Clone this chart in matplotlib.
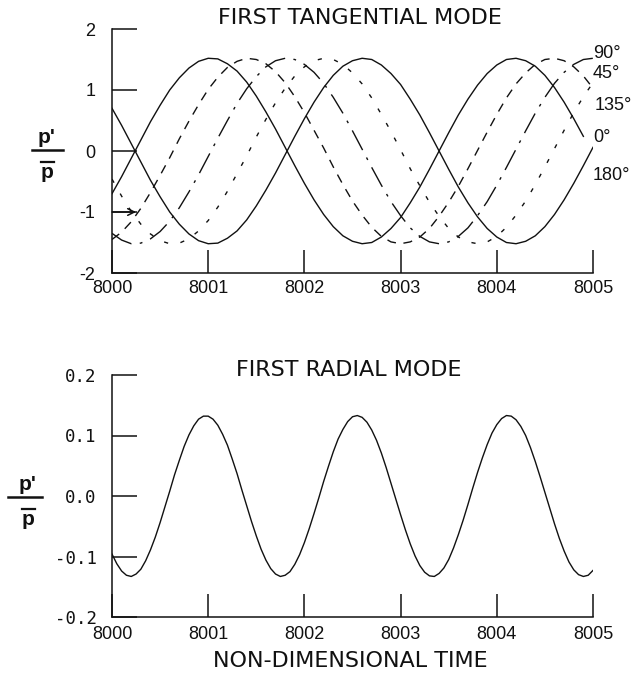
import numpy as np
import matplotlib
matplotlib.use("Agg")
import matplotlib.pyplot as plt
from matplotlib.lines import Line2D

# ---------------- data ----------------
time_tan = np.linspace(8000.0, 8005.0, 51)
time_rad = np.linspace(8000.0, 8005.0, 101)

p_0deg = [-0.70, -0.42, -0.12, 0.18, 0.48, 0.75, 1.00, 1.20, 1.36, 1.47,
          1.52, 1.51, 1.43, 1.31, 1.13, 0.90, 0.64, 0.36, 0.06, -0.24,
          -0.53, -0.80, -1.04, -1.24, -1.39, -1.48, -1.52, -1.50, -1.41, -1.27,
          -1.09, -0.85, -0.59, -0.30, 0.00, 0.30, 0.59, 0.85, 1.08, 1.27,
          1.41, 1.50, 1.52, 1.48, 1.39, 1.24, 1.04, 0.80, 0.53, 0.24]

p_45deg = [-1.45, -1.33, -1.16, -0.94, -0.68, -0.40, -0.11, 0.20, 0.49, 0.76,
           1.01, 1.21, 1.37, 1.47, 1.52, 1.50, 1.43, 1.30, 1.12, 0.89,
           0.63, 0.34, 0.05, -0.26, -0.55, -0.82, -1.05, -1.25, -1.40, -1.49,
           -1.52, -1.49, -1.41, -1.27, -1.07, -0.84, -0.58, -0.29, 0.01, 0.31,
           0.60, 0.87, 1.10, 1.28, 1.42, 1.50, 1.52, 1.48, 1.38, 1.23,
           1.03]

p_90deg = [-1.35, -1.46, -1.52, -1.51, -1.44, -1.32, -1.15, -0.93, -0.67, -0.39,
           -0.09, 0.21, 0.50, 0.78, 1.02, 1.22, 1.38, 1.48, 1.52, 1.50,
           1.42, 1.29, 1.11, 0.88, 0.62, 0.33, 0.03, -0.27, -0.56, -0.83,
           -1.06, -1.26, -1.40, -1.49, -1.52, -1.49, -1.40, -1.26, -1.06, -0.83,
           -0.56, -0.27, 0.03, 0.33, 0.62, 0.88, 1.11, 1.29, 1.42, 1.50,
           1.52]

p_135deg = [-0.46, -0.74, -0.99, -1.20, -1.36, -1.47, -1.52, -1.51, -1.44, -1.31,
            -1.14, -0.92, -0.66, -0.37, -0.08, 0.23, 0.52, 0.79, 1.03, 1.23,
            1.38, 1.48, 1.52, 1.50, 1.42, 1.28, 1.10, 0.87, 0.60, 0.32,
            0.02, -0.29, -0.57, -0.84, -1.07, -1.27, -1.41, -1.49, -1.52, -1.49,
            -1.40, -1.25, -1.05, -0.82, -0.55, -0.26, 0.04, 0.34, 0.63, 0.89,
            1.12]

p_180deg = [0.70, 0.42, 0.12, -0.18, -0.48, -0.75, -1.00, -1.20, -1.36, -1.47,
            -1.52, -1.51, -1.43, -1.31, -1.13, -0.90, -0.64, -0.36, -0.06, 0.24,
            0.53, 0.80, 1.04, 1.24, 1.39, 1.48, 1.52, 1.50, 1.41, 1.27,
            1.09, 0.85, 0.59, 0.30, 0.00, -0.30, -0.59, -0.85, -1.08, -1.27,
            -1.41, -1.50, -1.52, -1.48, -1.39, -1.24, -1.04, -0.80, -0.53, -0.24,
            0.06]

p_radial = [-0.096, -0.112, -0.124, -0.131, -0.133, -0.129, -0.121, -0.107, -0.089, -0.068,
            -0.044, -0.018, 0.008, 0.035, 0.059, 0.082, 0.101, 0.116, 0.127, 0.132,
            0.132, 0.127, 0.117, 0.102, 0.084, 0.061, 0.037, 0.010, -0.016, -0.042,
            -0.066, -0.088, -0.106, -0.120, -0.129, -0.133, -0.131, -0.125, -0.113, -0.097,
            -0.077, -0.054, -0.029, -0.003, 0.024, 0.049, 0.073, 0.094, 0.110, 0.123,
            0.131, 0.133, 0.130, 0.122, 0.109, 0.092, 0.071, 0.047, 0.021, -0.005,
            -0.031, -0.056, -0.079, -0.099, -0.115, -0.126, -0.132, -0.133, -0.128, -0.119,
            -0.105, -0.086, -0.064, -0.040, -0.014, 0.013, 0.039, 0.063, 0.085, 0.104,
            0.118, 0.128, 0.133, 0.132, 0.126, 0.115, 0.100, 0.080, 0.057, 0.032,
            0.006, -0.020, -0.046, -0.070, -0.091, -0.109, -0.122, -0.130, -0.133, -0.131,
            -0.123]

x_ticks = [8000, 8001, 8002, 8003, 8004, 8005]
x_ticklabels = ["8000", "8001", "8002", "8003", "8004", "8005"]
y_ticks_tan = [2, 1, 0, -1, -2]
y_ticklabels_tan = ["2", "1", "0", "-1", "-2"]
y_ticks_rad = [0.2, 0.1, 0.0, -0.1, -0.2]
y_ticklabels_rad = ["0.2", "0.1", "0.0", "-0.1", "-0.2"]
angle_labels = ["90°", "45°", "135°", "0°", "180°"]

# ---------------- figure ----------------
plt.rcParams['font.family'] = ['Liberation Sans', 'DejaVu Sans']
plt.rcParams['lines.scale_dashes'] = False
W, H = 632, 685
fig = plt.figure(figsize=(W / 100, H / 100), dpi=100)
ink = '#111111'


def fx(x):
    return x / W


def fy(y):
    return 1 - y / H


def style_axes(ax, ypad, xpad):
    for s in ('top', 'right'):
        ax.spines[s].set_visible(False)
    for s in ('left', 'bottom'):
        ax.spines[s].set_linewidth(1.1)
        ax.spines[s].set_color(ink)
    ax.tick_params(axis='y', direction='in', length=18, width=1.1, pad=ypad,
                   labelsize=13, colors=ink)
    ax.tick_params(axis='x', direction='in', length=16.5, width=1.1, pad=xpad,
                   labelsize=13, colors=ink)
    ax.set_xlim(8000, 8005)
    ax.set_xticks(x_ticks)
    ax.set_xticklabels(x_ticklabels)


# ---- top: first tangential mode ----
ax1 = fig.add_axes([fx(112), fy(273), 481 / W, 244 / H])
lw = 1.0
ax1.plot(time_tan[:len(p_0deg)], p_0deg, color=ink, lw=lw, ls='-')
ax1.plot(time_tan, p_45deg, color=ink, lw=lw, ls=(0, (6.5, 5.5)))
ax1.plot(time_tan, p_90deg, color=ink, lw=lw, ls=(0, (16, 6, 2, 6)))
ax1.plot(time_tan, p_135deg, color=ink, lw=lw, ls=(0, (3, 9)))
ax1.plot(time_tan, p_180deg, color=ink, lw=lw, ls='-')
ax1.set_ylim(-2, 2)
style_axes(ax1, ypad=12, xpad=5)
ax1.set_yticks(y_ticks_tan)
ax1.set_yticklabels(y_ticklabels_tan)
ax1.annotate('', xy=(8000.25, -1), xytext=(8000.0, -1),
             arrowprops=dict(arrowstyle='->', lw=1.1, color=ink, mutation_scale=12,
                             shrinkA=0, shrinkB=0))

# angle labels at the right end
label_y = [53, 73, 105, 137, 175]
label_x = [593, 593, 595, 593, 593]
for s, lx, ly in zip(angle_labels, label_x, label_y):
    fig.text(fx(lx), fy(ly), s, fontsize=13, ha='left', va='center', color=ink)

fig.text(fx(360), fy(18), "FIRST TANGENTIAL MODE", fontsize=16, ha='center',
         va='center', color=ink, family='DejaVu Sans')

# ---- bottom: first radial mode ----
ax2 = fig.add_axes([fx(112), fy(617), 481 / W, 242 / H])
ax2.plot(time_rad, p_radial, color=ink, lw=lw)
ax2.set_ylim(-0.2, 0.2)
style_axes(ax2, ypad=11, xpad=6.5)
ax2.set_yticks(y_ticks_rad)
ax2.set_yticklabels(y_ticklabels_rad, family='DejaVu Sans Mono', fontsize=12.5)

fig.text(fx(349), fy(370), "FIRST RADIAL MODE", fontsize=16, ha='center',
         va='center', color=ink, family='DejaVu Sans')
fig.text(fx(350), fy(661), "NON-DIMENSIONAL TIME", fontsize=16, ha='center',
         va='center', color=ink, family='DejaVu Sans')


# ---- y labels  p' / p-bar ----
def frac_label(cx, yline, x0, x1):
    fig.text(fx(cx), fy(yline - 3), "p'", fontsize=15, fontweight='bold',
             ha='center', va='bottom', color=ink)
    fig.add_artist(Line2D([fx(x0), fx(x1)], [fy(yline), fy(yline)],
                          transform=fig.transFigure, color=ink, lw=1.8))
    fig.add_artist(Line2D([fx(cx - 6), fx(cx + 7)], [fy(yline + 12), fy(yline + 12)],
                          transform=fig.transFigure, color=ink, lw=1.6))
    fig.text(fx(cx), fy(yline + 13), "p", fontsize=15, fontweight='bold',
             ha='center', va='top', color=ink)


frac_label(47, 150, 32, 63)
frac_label(28, 497, 8, 42)

fig.savefig("out.png", dpi=100)
